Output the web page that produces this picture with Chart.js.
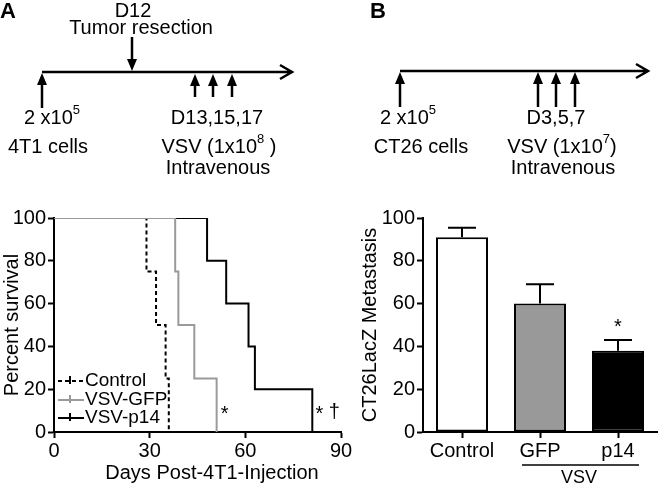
<!DOCTYPE html>
<html>
<head>
<meta charset="utf-8">
<script src="https://cdn.jsdelivr.net/npm/chart.js@4"></script>
<style>
  html, body { margin: 0; padding: 0; background: #fff; }
  #wrap { position: relative; width: 660px; height: 486px; }
  #wrap canvas { position: absolute; left: 0; top: 0; }
</style>
</head>
<body>
<div id="wrap">
  <canvas id="survivalChart" width="660" height="486"></canvas>
  <canvas id="metChart" width="660" height="486"></canvas>
</div>
<script>
// Panel A - survival (days / percent)
const controlDays = [0, 29, 32, 35, 36];
const controlSurv = [100, 75, 50, 25, 0];
const gfpDays = [0, 38, 39, 44, 51];
const gfpSurv = [100, 75, 50, 25, 0];
const p14Days = [0, 48, 54, 61, 63, 81];
const p14Surv = [100, 80, 60, 40, 20, 0];
const survivalLabels = ['Control', 'VSV-GFP', 'VSV-p14'];

// Panel B - metastasis bars
const metGroups = ['Control', 'GFP', 'p14'];
const metMeans = [91, 60, 38];
const metErr = [4.5, 9, 5];

const FONT = "'Liberation Sans', Arial, Helvetica, sans-serif";
Chart.defaults.font.family = FONT;
Chart.defaults.color = '#000';

function toPoints(xs, ys) {
    return xs.map((x, i) => ({ x: x, y: ys[i] }));
}

// ---- little drawing helpers for the schematics ----
function arrowUp(ctx, x, tipY, baseY) {
    ctx.beginPath();
    ctx.moveTo(x, baseY);
    ctx.lineTo(x, tipY + 8);
    ctx.stroke();
    ctx.beginPath();
    ctx.moveTo(x, tipY);
    ctx.lineTo(x - 5, tipY + 12);
    ctx.lineTo(x + 5, tipY + 12);
    ctx.closePath();
    ctx.fill();
}

function arrowDown(ctx, x, baseY, tipY) {
    ctx.beginPath();
    ctx.moveTo(x, baseY);
    ctx.lineTo(x, tipY - 8);
    ctx.stroke();
    ctx.beginPath();
    ctx.moveTo(x, tipY);
    ctx.lineTo(x - 5, tipY - 12);
    ctx.lineTo(x + 5, tipY - 12);
    ctx.closePath();
    ctx.fill();
}

// text with a superscript part in the middle, centred on cx
function supText(ctx, before, sup, after, cx, cy) {
    const big = '20px ' + FONT, small = '13px ' + FONT;
    ctx.font = big;
    const w1 = ctx.measureText(before).width;
    const w3 = ctx.measureText(after).width;
    ctx.font = small;
    const w2 = ctx.measureText(sup).width;
    let x = cx - (w1 + w2 + w3) / 2;
    ctx.textAlign = 'left';
    ctx.textBaseline = 'middle';
    ctx.font = big;
    ctx.fillText(before, x, cy);
    ctx.font = small;
    ctx.fillText(sup, x + w1, cy - 8);
    ctx.font = big;
    ctx.fillText(after, x + w1 + w2, cy);
}

function centerText(ctx, txt, cx, cy, font) {
    ctx.font = font || ('20px ' + FONT);
    ctx.textAlign = 'center';
    ctx.textBaseline = 'middle';
    ctx.fillText(txt, cx, cy);
}

function timeline(ctx, x0, x1, y) {
    ctx.beginPath();
    ctx.moveTo(x0, y);
    ctx.lineTo(x1, y);
    ctx.moveTo(x1 - 12, y - 7);
    ctx.lineTo(x1, y);
    ctx.lineTo(x1 - 12, y + 7);
    ctx.stroke();
}

// Panel A schematic + legend + significance marks
const survivalExtras = {
    id: 'survivalExtras',
    afterDraw(chart) {
        const { ctx, scales: { x, y } } = chart;
        ctx.save();
        ctx.fillStyle = '#000';
        ctx.strokeStyle = '#000';
        ctx.lineWidth = 2.5;

        ctx.font = 'bold 22px ' + FONT;
        ctx.textAlign = 'left';
        ctx.textBaseline = 'middle';
        ctx.fillText('A', 0, 12);

        centerText(ctx, 'D12', 133, 11);
        centerText(ctx, 'Tumor resection', 141, 28);
        arrowDown(ctx, 132, 37, 71);
        timeline(ctx, 42, 292, 72);
        arrowUp(ctx, 42, 73, 108);
        [195, 213, 232].forEach(px => arrowUp(ctx, px, 74, 97));

        supText(ctx, '2 x10', '5', '', 52, 118);
        centerText(ctx, '4T1 cells', 48, 147);
        centerText(ctx, 'D13,15,17', 217, 118);
        supText(ctx, 'VSV (1x10', '8', ' )', 219, 147);
        centerText(ctx, 'Intravenous', 218, 168);

        // x axis title, sits a little right of the axis centre in the original
        centerText(ctx, 'Days Post-4T1-Injection', 212, 473);

        // legend inside the plot, lower left
        const rowY = [381, 400, 418];
        chart.data.datasets.forEach((ds, i) => {
            const ly = rowY[i];
            ctx.strokeStyle = ds.borderColor;
            ctx.lineWidth = 2;
            ctx.setLineDash(ds.borderDash || []);
            ctx.beginPath();
            ctx.moveTo(58, ly);
            ctx.lineTo(84, ly);
            ctx.stroke();
            ctx.setLineDash([]);
            ctx.beginPath();
            ctx.moveTo(70, ly - 5);
            ctx.lineTo(70, ly + 3);
            ctx.stroke();
            ctx.fillStyle = '#000';
            ctx.font = '19px ' + FONT;
            ctx.textAlign = 'left';
            ctx.textBaseline = 'middle';
            ctx.fillText(survivalLabels[i], 85, ly);
        });

        // significance marks
        ctx.fillStyle = '#000';
        centerText(ctx, '*', x.getPixelForValue(51) + 8, y.getPixelForValue(8), '20px ' + FONT);
        centerText(ctx, '*', x.getPixelForValue(81) + 7, y.getPixelForValue(8), '20px ' + FONT);
        centerText(ctx, '\u2020', x.getPixelForValue(81) + 22, y.getPixelForValue(9), '20px ' + FONT);
        ctx.restore();
    }
};

new Chart(document.getElementById('survivalChart'), {
    type: 'line',
    data: {
        datasets: [
            { label: survivalLabels[0], data: toPoints(controlDays, controlSurv), borderColor: '#000', borderDash: [4, 3], order: 1 },
            { label: survivalLabels[1], data: toPoints(gfpDays, gfpSurv), borderColor: '#9a9a9a', order: 0 },
            { label: survivalLabels[2], data: toPoints(p14Days, p14Surv), borderColor: '#000', order: 2 }
        ]
    },
    options: {
        responsive: false,
        animation: false,
        layout: { padding: { left: 0, top: 218, right: 319, bottom: 0 } },
        elements: {
            line: { borderWidth: 2, stepped: true, tension: 0 },
            point: { radius: 0 }
        },
        plugins: { legend: { display: false }, tooltip: { enabled: false } },
        scales: {
            x: {
                type: 'linear', min: 0, max: 90,
                ticks: { stepSize: 30, font: { size: 20 }, padding: 1, maxRotation: 0 },
                grid: { drawOnChartArea: false, tickLength: 6, tickColor: '#000', tickWidth: 2 },
                border: { color: '#000', width: 2 },
                afterFit: s => { s.height = 54; }
            },
            y: {
                min: 0, max: 100,
                ticks: { stepSize: 20, font: { size: 20 }, padding: 2 },
                grid: { drawOnChartArea: false, tickLength: 6, tickColor: '#000', tickWidth: 2 },
                border: { color: '#000', width: 2 },
                title: { display: true, text: 'Percent survival', font: { size: 20 }, padding: { top: 0, bottom: 0 } },
                afterFit: s => { s.width = 54; }
            }
        }
    },
    plugins: [survivalExtras]
});

// Panel B schematic, error bars, bracket
const metExtras = {
    id: 'metExtras',
    afterDraw(chart) {
        const { ctx, scales: { x, y } } = chart;
        ctx.save();
        ctx.fillStyle = '#000';
        ctx.strokeStyle = '#000';

        // error bars (upper only)
        ctx.lineWidth = 2;
        chart.getDatasetMeta(0).data.forEach((bar, i) => {
            const top = y.getPixelForValue(metMeans[i] + metErr[i]);
            ctx.beginPath();
            ctx.moveTo(bar.x, bar.y);
            ctx.lineTo(bar.x, top);
            ctx.moveTo(bar.x - 14, top);
            ctx.lineTo(bar.x + 14, top);
            ctx.stroke();
        });
        centerText(ctx, '*', x.getPixelForValue(2), y.getPixelForValue(metMeans[2] + metErr[2]) - 12, '20px ' + FONT);

        // VSV bracket under GFP and p14
        const gx = x.getPixelForValue(1), px = x.getPixelForValue(2);
        ctx.lineWidth = 1.5;
        ctx.beginPath();
        ctx.moveTo(gx - 18, 465);
        ctx.lineTo(px + 21, 465);
        ctx.stroke();
        centerText(ctx, 'VSV', (gx + px) / 2, 478, '18px ' + FONT);

        // schematic
        ctx.lineWidth = 2.5;
        ctx.font = 'bold 22px ' + FONT;
        ctx.textAlign = 'left';
        ctx.textBaseline = 'middle';
        ctx.fillText('B', 370, 12);
        timeline(ctx, 400, 648, 71);
        arrowUp(ctx, 400, 72, 107);
        [538, 556, 575].forEach(p => arrowUp(ctx, p, 72, 107));
        supText(ctx, '2 x10', '5', '', 408, 118);
        centerText(ctx, 'CT26 cells', 421, 147);
        centerText(ctx, 'D3,5,7', 556, 118);
        supText(ctx, 'VSV (1x10', '7', ')', 562, 147);
        centerText(ctx, 'Intravenous', 563, 168);
        ctx.restore();
    }
};

new Chart(document.getElementById('metChart'), {
    type: 'bar',
    data: {
        labels: metGroups,
        datasets: [{
            data: metMeans,
            backgroundColor: ['#ffffff', '#999999', '#000000'],
            borderColor: '#000',
            borderWidth: 2,
            borderSkipped: false,
            barPercentage: 0.667,
            categoryPercentage: 1
        }]
    },
    options: {
        responsive: false,
        animation: false,
        layout: { padding: { left: 350, top: 218, right: 3, bottom: 0 } },
        plugins: { legend: { display: false }, tooltip: { enabled: false } },
        scales: {
            x: {
                ticks: { font: { size: 20 }, padding: 1 },
                grid: { offset: false, drawOnChartArea: false, tickLength: 6, tickColor: '#000', tickWidth: 2 },
                border: { color: '#000', width: 2 },
                afterFit: s => { s.height = 54; }
            },
            y: {
                min: 0, max: 100,
                ticks: { stepSize: 20, font: { size: 20 }, padding: 2 },
                grid: { drawOnChartArea: false, tickLength: 6, tickColor: '#000', tickWidth: 2 },
                border: { color: '#000', width: 2 },
                title: { display: true, text: 'CT26LacZ Metastasis', font: { size: 20 }, padding: { top: 8, bottom: 0 } },
                afterFit: s => { s.width = 73; }
            }
        }
    },
    plugins: [metExtras]
});
</script>
</body>
</html>
